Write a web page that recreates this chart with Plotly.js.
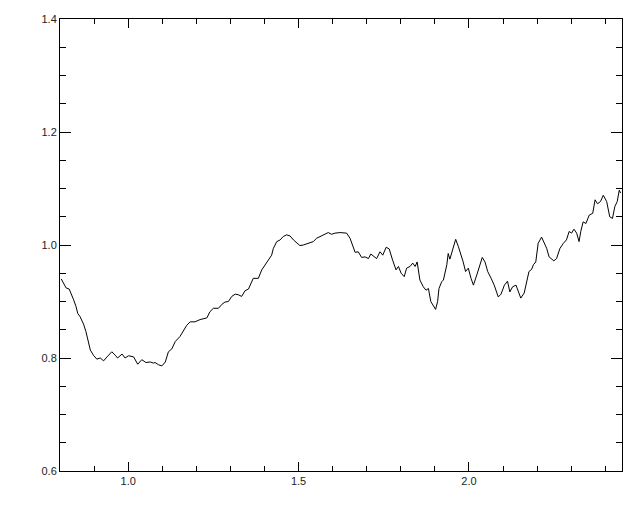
<!DOCTYPE html>
<html>
<head>
<meta charset="utf-8">
<script src="https://cdn.plot.ly/plotly-3.0.1.min.js"></script>
<style>html,body{margin:0;padding:0;background:#fff;}#chart{width:640px;height:512px;}</style>
</head>
<body>
<div id="chart"></div>
<script>
const xValues = [0.8035,0.810,0.818,0.827,0.833,0.840,0.847,0.852,0.859,0.869,0.876,0.882,0.889,0.898,0.908,0.918,0.928,0.938,0.952,0.962,0.969,0.982,0.991,1.001,1.016,1.028,1.040,1.052,1.065,1.074,1.079,1.089,1.099,1.109,1.118,1.128,1.138,1.152,1.162,1.172,1.182,1.196,1.211,1.231,1.240,1.250,1.265,1.275,1.284,1.294,1.304,1.314,1.323,1.333,1.343,1.353,1.367,1.382,1.392,1.402,1.411,1.421,1.426,1.436,1.446,1.455,1.465,1.475,1.485,1.495,1.504,1.514,1.524,1.534,1.543,1.553,1.563,1.578,1.587,1.597,1.607,1.622,1.641,1.651,1.659,1.666,1.675,1.685,1.695,1.705,1.712,1.719,1.729,1.739,1.747,1.757,1.766,1.776,1.786,1.793,1.801,1.810,1.817,1.827,1.835,1.842,1.848,1.856,1.866,1.874,1.881,1.888,1.895,1.902,1.908,1.912,1.920,1.925,1.935,1.939,1.944,1.951,1.961,1.969,1.977,1.983,1.990,1.998,2.006,2.013,2.023,2.032,2.039,2.047,2.055,2.065,2.074,2.086,2.094,2.104,2.113,2.120,2.128,2.138,2.145,2.152,2.162,2.169,2.176,2.184,2.189,2.196,2.203,2.213,2.220,2.228,2.235,2.242,2.249,2.257,2.267,2.277,2.286,2.294,2.301,2.308,2.316,2.323,2.328,2.335,2.343,2.353,2.363,2.370,2.377,2.386,2.394,2.404,2.413,2.421,2.428,2.435,2.441,2.445];
const yValues = [0.940,0.932,0.924,0.922,0.914,0.903,0.891,0.879,0.873,0.860,0.847,0.829,0.814,0.805,0.798,0.800,0.795,0.802,0.811,0.805,0.800,0.807,0.800,0.804,0.802,0.789,0.797,0.792,0.793,0.791,0.792,0.788,0.786,0.793,0.811,0.816,0.829,0.838,0.847,0.858,0.864,0.864,0.868,0.871,0.882,0.888,0.888,0.895,0.899,0.900,0.909,0.913,0.912,0.909,0.919,0.922,0.941,0.941,0.956,0.965,0.971,0.982,0.994,1.006,1.009,1.015,1.018,1.016,1.009,1.003,0.999,1.000,1.002,1.003,1.006,1.012,1.015,1.019,1.022,1.019,1.021,1.022,1.021,1.012,0.997,0.987,0.988,0.978,0.979,0.976,0.984,0.981,0.976,0.988,0.982,0.996,0.993,0.973,0.956,0.962,0.950,0.944,0.959,0.962,0.968,0.962,0.970,0.938,0.926,0.920,0.923,0.900,0.894,0.886,0.900,0.923,0.935,0.938,0.965,0.985,0.975,0.988,1.010,0.997,0.982,0.970,0.953,0.959,0.941,0.929,0.947,0.965,0.978,0.970,0.953,0.941,0.929,0.908,0.913,0.929,0.936,0.917,0.926,0.929,0.917,0.906,0.915,0.935,0.953,0.957,0.965,0.970,1.003,1.014,1.003,0.994,0.979,0.976,0.972,0.976,0.994,1.003,1.009,1.024,1.021,1.028,1.021,1.006,1.024,1.041,1.038,1.053,1.056,1.080,1.073,1.077,1.088,1.077,1.050,1.047,1.068,1.077,1.097,1.092];
const xTickVals = [1.0, 1.5, 2.0];
const xTickText = ["1.0", "1.5", "2.0"];
const yTickVals = [0.6, 0.8, 1.0, 1.2, 1.4];
const yTickText = ["0.6", "0.8", "1.0", "1.2", "1.4"];

const trace = {
  x: xValues, y: yValues, type: 'scatter', mode: 'lines',
  line: {color: '#000', width: 1}, hoverinfo: 'skip'
};
const fontSpec = {family: 'Liberation Sans, Arial, sans-serif', size: 11, color: '#222'};
const layout = {
  width: 640, height: 512,
  margin: {l: 60, r: 18, t: 19, b: 41, pad: 0},
  paper_bgcolor: '#fff', plot_bgcolor: '#fff',
  showlegend: false,
  font: fontSpec,
  xaxis: {
    range: [0.8, 2.449], tickvals: xTickVals, ticktext: xTickText,
    ticks: 'inside', ticklen: 9, tickwidth: 1, tickcolor: '#000',
    showline: true, linecolor: '#000', linewidth: 1, mirror: 'ticks',
    showgrid: false, zeroline: false, tickfont: fontSpec,
    minor: {dtick: 0.1, tick0: 0.8, ticks: 'inside', ticklen: 5, tickwidth: 1, tickcolor: '#000', showgrid: false}
  },
  yaxis: {
    range: [0.6, 1.4], tickvals: yTickVals, ticktext: yTickText,
    ticks: 'inside', ticklen: 11, tickwidth: 1, tickcolor: '#000',
    showline: true, linecolor: '#000', linewidth: 1, mirror: 'ticks',
    showgrid: false, zeroline: false, tickfont: fontSpec,
    minor: {dtick: 0.05, tick0: 0.6, ticks: 'inside', ticklen: 6, tickwidth: 1, tickcolor: '#000', showgrid: false}
  }
};
Plotly.newPlot('chart', [trace], layout, {staticPlot: true, displayModeBar: false});
</script>
</body>
</html>
